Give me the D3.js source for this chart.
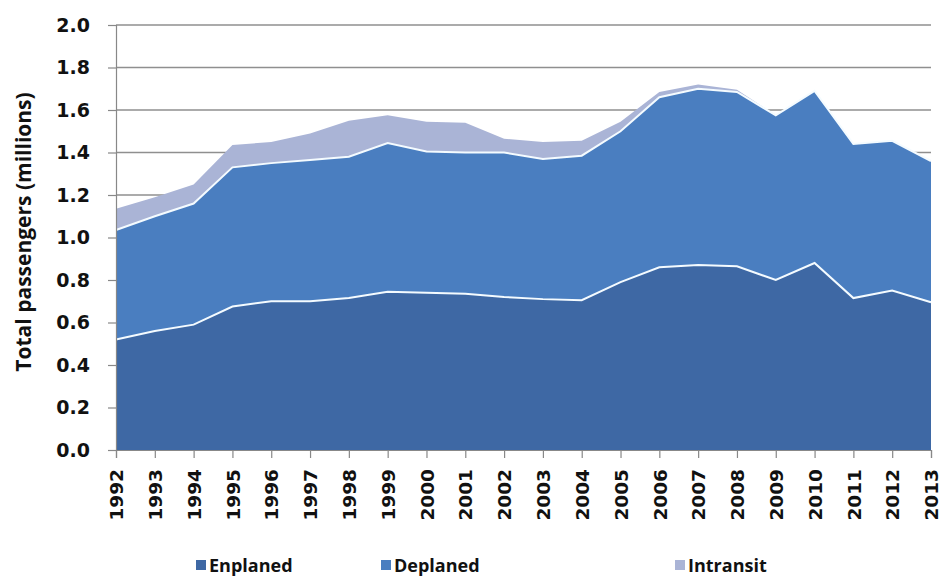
<!DOCTYPE html>
<html>
<head>
<meta charset="utf-8">
<script src="https://cdn.jsdelivr.net/npm/d3@7"></script>
<style>
  body { margin: 0; background: #fff; }
  .tick text { font-family: "DejaVu Sans", sans-serif; font-weight: bold; fill: #111; }
</style>
</head>
<body>
<div class="chart"></div>
<script>
const years = [1992,1993,1994,1995,1996,1997,1998,1999,2000,2001,2002,2003,2004,2005,2006,2007,2008,2009,2010,2011,2012,2013];
const enplaned  = [0.52,0.56,0.59,0.675,0.70,0.70,0.715,0.745,0.74,0.735,0.72,0.71,0.705,0.79,0.86,0.87,0.865,0.80,0.88,0.715,0.75,0.695];
const deplaned  = [0.515,0.54,0.57,0.655,0.65,0.665,0.665,0.70,0.665,0.665,0.68,0.66,0.68,0.71,0.80,0.83,0.82,0.775,0.81,0.725,0.705,0.665];
const intransit = [0.10,0.09,0.09,0.105,0.10,0.125,0.17,0.13,0.14,0.14,0.065,0.08,0.07,0.045,0.025,0.02,0.01,0,0,0,0,0];
const yTicks = [0,0.2,0.4,0.6,0.8,1.0,1.2,1.4,1.6,1.8,2.0];
const seriesNames = ['Enplaned','Deplaned','Intransit'];
const colors = ['#3e68a4','#4a7ec0','#aab4d6'];

const width = 941, height = 576;
const plotLeft = 116, plotRight = 931, plotTop = 25, plotBottom = 450;

const rows = years.map((y,i) => ({year: y, Enplaned: enplaned[i], Deplaned: deplaned[i], Intransit: intransit[i]}));
const stacked = d3.stack().keys(seriesNames)(rows);

const svg = d3.select('.chart').append('svg')
    .attr('width', width)
    .attr('height', height)

const x = d3.scaleLinear().domain([1992, 2013]).range([plotLeft, plotRight]);
const y = d3.scaleLinear().domain([0, 2]).range([plotBottom, plotTop]);

// gridlines first, areas cover them
svg.selectAll('line.grid')
    .data(yTicks.filter(d => d > 0))
    .enter()
    .append('line')
    .attr('class', 'grid')
    .attr('x1', plotLeft)
    .attr('x2', plotRight)
    .attr('y1', d => y(d))
    .attr('y2', d => y(d))
    .attr('stroke', '#8f8f8f')
    .attr('stroke-width', 1.5)

const area = d3.area()
    .x(d => x(d.data.year))
    .y0(d => y(d[0]))
    .y1(d => y(d[1]));

svg.selectAll('path.layer')
    .data(stacked)
    .enter()
    .append('path')
    .attr('class', 'layer')
    .attr('d', area)
    .attr('fill', (d,i) => colors[i])

// white edges on top of the two lower layers
const topLine = d3.line()
    .x(d => x(d.data.year))
    .y(d => y(d[1]));

svg.selectAll('path.edge')
    .data(stacked.slice(0, 2))
    .enter()
    .append('path')
    .attr('class', 'edge')
    .attr('d', topLine)
    .attr('fill', 'none')
    .attr('stroke', '#f4fbff')
    .attr('stroke-width', 2)

// axes
const yAxis = svg.append('g')
    .attr('transform', `translate(${plotLeft},0)`)
    .call(d3.axisLeft(y).tickValues(yTicks).tickFormat(d3.format('.1f')).tickSize(8).tickPadding(18))
yAxis.selectAll('text').attr('font-size', 19)
yAxis.selectAll('line, path').attr('stroke', '#888').attr('stroke-width', 1.2)

const xAxis = svg.append('g')
    .attr('transform', `translate(0,${plotBottom})`)
    .call(d3.axisBottom(x).tickValues(years).tickFormat(d3.format('d')).tickSize(8))
xAxis.selectAll('text')
    .attr('font-size', 18.5)
    .attr('transform', 'rotate(-90)')
    .attr('text-anchor', 'end')
    .attr('x', -19)
    .attr('y', 0)
    .attr('dy', '0.36em')
xAxis.selectAll('line, path').attr('stroke', '#888').attr('stroke-width', 1.2)

// y title
svg.append('text')
    .attr('transform', 'translate(31,232) rotate(-90)')
    .attr('text-anchor', 'middle')
    .attr('font-family', 'Open Sans, sans-serif')
    .attr('font-weight', 'bold')
    .attr('font-size', 21)
    .attr('fill', '#111')
    .text('Total passengers (millions)')

// legend
const legendX = [196, 381, 675];
const legend = svg.selectAll('g.legend')
    .data(seriesNames)
    .enter()
    .append('g')
    .attr('class', 'legend')
    .attr('transform', (d,i) => `translate(${legendX[i]},572)`)

legend.append('rect')
    .attr('x', 0)
    .attr('y', -12)
    .attr('width', 10)
    .attr('height', 10)
    .attr('fill', (d,i) => colors[i])

legend.append('text')
    .attr('x', 13)
    .attr('y', 0)
    .attr('font-family', 'Open Sans, sans-serif')
    .attr('font-weight', 'bold')
    .attr('font-size', 18)
    .attr('fill', '#111')
    .text(d => d)
</script>
</body>
</html>
